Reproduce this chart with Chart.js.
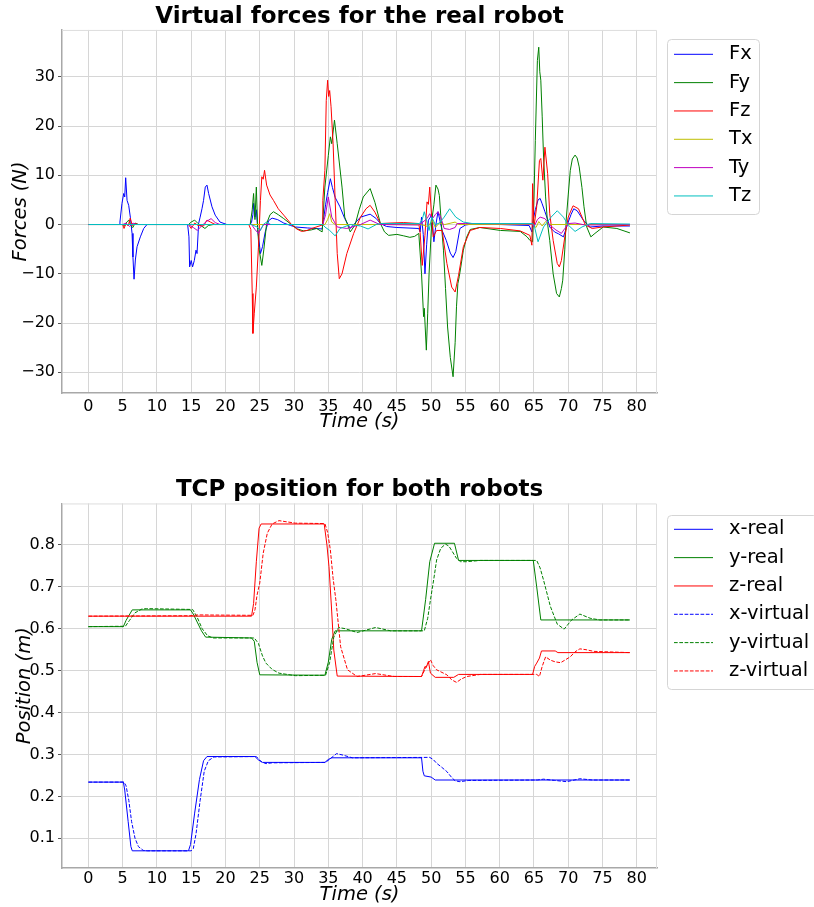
<!DOCTYPE html>
<html>
<head>
<meta charset="utf-8">
<script src="https://cdn.jsdelivr.net/npm/chart.js@4.4.0/dist/chart.umd.min.js"></script>
<style>
  body { margin: 0; background: #fff; }
  canvas { display: block; }
</style>
</head>
<body>
<canvas id="forceChart" width="814" height="453"></canvas>
<canvas id="posChart" width="814" height="454"></canvas>
<script>
// ---- virtual forces, [time (s), force (N)] ----
const fx = [[0,0],[4.5,0],[4.6,0.5],[4.9,4.3],[5.15,6.3],[5.3,5.6],[5.44,9.5],[5.64,4.9],[5.88,3.9],[6.12,1.5],[6.37,-1.8],[6.5,-6.6],[6.66,-11.1],[6.85,-7.2],[7.1,-4.5],[7.58,-2.5],[8.07,-0.8],[8.55,0],
  [14.48,0],[14.67,-2.5],[14.77,-8.6],[15.0,-7.3],[15.2,-8.6],[15.45,-7.3],[15.7,-5.2],[15.85,-5.9],[16.08,0.2],[16.3,1.5],[16.57,3.2],[16.8,4.9],[17.05,7.6],[17.3,8.0],[17.54,6.3],[18.03,3.6],[18.5,1.9],[19.2,0.5],[20.2,0],
  [23.6,0],[23.8,0.5],[24.0,2],[24.1,4.3],[24.3,1.5],[24.5,3],[24.7,-1],[25.1,-5.9],[25.4,-4.5],[25.8,-1.5],[26.3,0.8],[26.8,1.3],[27.6,1.0],[28.5,0.3],[29.5,-0.2],[30.2,-0.5],[32,-0.7],[34.1,-0.9],
  [34.3,1],[34.6,4],[34.9,6.5],[35.3,9.3],[35.6,7.5],[36.0,5.5],[36.7,3.6],[37.4,1.2],[38.2,-0.8],[38.9,0.3],[39.7,1.5],[41.1,2.1],[42.0,1.2],[42.6,0.2],[43.5,-0.4],[45,-0.6],[48.2,-0.8],
  [48.4,-1.5],[48.6,1.5],[48.85,-2],[49.1,-10],[49.35,-4],[49.6,0.9],[49.9,1.5],[50.1,2.2],[50.4,-3.5],[50.7,0],[51.0,2.6],[51.6,-1.2],[52.2,-3.2],[52.8,-5.8],[53.2,-6.7],[53.6,-5.5],[54.2,-0.8],[55,-0.1],[56,0.1],[60,0],[64.3,-0.2],[64.7,-1.5],
  [64.9,1],[65.2,3],[65.6,5],[65.9,5.3],[66.2,4.2],[66.6,2.6],[67.0,1],[67.3,-0.5],[68.0,-1.5],[68.6,-1.9],[69.3,-2.5],[69.7,-0.8],[70.0,0.5],[70.4,2],[70.8,3.2],[71.3,2.8],[72.2,0.9],[73.2,-0.5],[75,-0.3],[79,-0.3]];

const fy = [[0,0],[5.0,0],[5.3,-0.3],[5.6,0.5],[5.9,0.9],[6.2,-0.3],[6.5,-0.6],[6.8,0.3],[7.3,0],
  [14.6,0],[15.0,0.5],[15.5,0.9],[16.0,0.2],[16.5,-0.3],[17.0,-0.8],[17.5,-0.2],[18.2,0],
  [23.6,0],[23.9,3],[24.1,6.3],[24.3,1],[24.5,7.6],[24.7,-1],[24.9,-5],[25.3,-8.3],[25.6,-5],[26.0,0.2],[26.5,2],[27.0,2.6],[27.7,2],[28.5,1.2],[29.7,-0.1],[30.5,-0.9],[31.4,-1.3],[32.5,-1.1],[33.3,-0.8],[34.1,-1.5],
  [34.5,7.6],[35.0,14],[35.3,17.8],[35.5,16.4],[35.9,21.2],[36.3,16.4],[37.0,7.6],[37.4,1.5],[38.2,-1.5],[38.9,-0.1],[39.5,3],[40.1,5.6],[41.1,7.3],[41.8,4.5],[42.6,0.2],[43.2,-1.5],[43.8,-2.2],[45.0,-2.0],[46.0,-2.3],[46.9,-2.6],[47.6,-2.4],[48.2,-1.8],
  [48.6,-10],[48.9,-18.7],[49.0,-17],[49.3,-25.5],[49.5,-18],[49.7,-10],[50.1,0.9],[50.4,4],[50.7,8.0],[51.0,7.2],[51.2,5.9],[51.5,0],[51.8,-5.2],[52.1,-13],[52.4,-20.8],[52.8,-27],[53.2,-30.9],[53.5,-24],[53.7,-16.7],[53.9,-12],[54.1,-10.6],[54.4,-8],[54.7,-5.2],[55.2,-2.5],[55.7,-1],[57.1,-0.6],[60.1,-1.2],[63,-1.4],[64.0,-2.5],[64.4,-3.2],[64.8,-3.5],
  [65.0,5],[65.2,17.1],[65.5,33.3],[65.7,36.0],[65.85,31],[66.0,29.3],[66.2,22],[66.4,13.7],[66.7,5.6],[67.0,0],[67.3,-3.2],[67.8,-10],[68.3,-14],[68.7,-14.7],[69.0,-13],[69.2,-11.3],[69.5,-5],[69.7,0.9],[70.0,6],[70.3,11],[70.6,13.3],[71.0,14.1],[71.3,13.5],[71.6,11.7],[72.0,7.5],[72.3,3.6],[72.7,-0.5],[73.3,-2.5],[73.9,-1.8],[75.1,-0.5],[77.1,-0.8],[79,-1.7]];

const fz = [[0,0],[5.0,0],[5.2,-0.8],[5.5,0.3],[5.8,-0.3],[6.1,1.3],[6.4,-0.2],[6.8,0.2],[7.3,0],
  [14.6,0],[15.0,-0.8],[15.5,0.3],[16.0,-0.2],[16.8,-0.3],[17.3,0.9],[17.8,0.5],[18.5,0],
  [23.4,0],[23.7,-1],[23.9,-14],[24.0,-22.1],[24.2,-18],[24.5,-12.7],[24.8,-4.7],[25.1,4.9],[25.3,9.7],[25.5,9.2],[25.7,11],[26.0,8.0],[26.5,6],[27.0,4.9],[27.7,3.2],[28.5,1.9],[29.7,-0.1],[30.4,-0.9],[31.1,-1.4],[31.9,-1.2],[32.6,-0.8],[34.1,-0.1],
  [34.2,4.9],[34.5,11],[34.7,25.2],[34.9,29.3],[35.05,26],[35.2,27.2],[35.4,23.9],[35.7,16.4],[36.0,4.9],[36.3,-5.9],[36.6,-11],[37.0,-10],[37.7,-5.9],[38.7,-1.8],[39.7,1.5],[40.5,3.2],[41.1,3.9],[41.8,2.5],[42.6,0.2],[44,0.3],[46,0.4],[48.2,0.2],
  [48.4,-1.7],[48.7,-8.3],[49.1,-2.2],[49.4,4.6],[49.6,4.1],[49.8,7.6],[50.1,0.9],[50.3,-2.5],[50.8,-1.2],[51.6,-1.2],[52.3,-7.9],[53.0,-12.7],[53.5,-13.7],[54.0,-10.3],[54.7,-4.5],[55.7,-1.2],[57.1,-0.6],[60.1,-0.8],[63,-1.3],[64.4,-2.2],[64.7,-4.2],
  [64.8,8.3],[65.0,-0.5],[65.4,3.6],[65.8,13],[66.0,13.4],[66.3,9],[66.6,15.7],[67.0,10.3],[67.3,2.2],[67.8,-3.2],[68.4,-7.9],[68.7,-8.6],[69.0,-7.3],[69.5,-2.5],[70.0,1.5],[70.7,3.8],[71.5,3.2],[72.5,-0.1],[73.5,-0.8],[75,-0.5],[79,-0.1]];

const tx = [[0,0],[34.5,0],[34.9,1],[35.2,2.2],[35.5,0.5],[36,0],[48.5,0],[49.5,-0.4],[50.2,0.8],[50.6,-0.6],[51.2,0.3],[52,0],[53.5,0.5],[54,0],
  [64.8,0],[65.3,-0.6],[65.7,0.6],[66.2,-0.3],[66.7,0.6],[67.3,0],[79,0]];

const ty = [[0,0],[5,0],[5.5,0.3],[6.0,-0.4],[6.5,0.3],[7,0],[14.6,0],[15.3,-0.6],[15.9,-1.2],[16.5,-0.3],[17.2,0.6],[17.9,1.2],[18.5,0.4],[19.2,0],
  [23.8,0],[24.3,-1],[24.8,-1.8],[25.2,-0.8],[25.6,0],[34.2,0],[34.6,2],[35.0,5.6],[35.5,1.5],[36.3,-0.5],[37.7,-0.8],[39.7,0],[41.1,0.9],[42.5,0],[48.2,-0.1],
  [48.8,0.5],[49.4,1.2],[49.8,2.2],[50.2,1.2],[50.6,2],[51.0,2.6],[51.4,1.5],[51.9,-0.8],[52.7,-1.0],[53.5,-0.6],[53.8,0.2],[55,0.2],[64.8,0.1],
  [65.0,-0.5],[65.5,1],[65.9,1.5],[66.6,1.2],[67.3,-0.1],[68.2,-1.1],[69.0,-1.8],[69.5,-0.8],[70,0.2],[71,0.3],[72.5,-0.1],[79,0]];

const tz = [[0,0],[23.8,0],[24.6,-0.5],[25.1,-1.2],[25.5,0],[26.0,0.5],[26.6,0],[34.2,0],[34.5,-0.5],[35.2,-1.2],[36.0,-2.3],[36.7,-0.8],[38.2,0],[39.7,-0.3],[40.8,-0.9],[42.0,0],[42.6,0.2],[48.3,0.2],
  [48.7,1],[49.0,2.6],[49.4,0.5],[49.7,-1.2],[50.1,1.5],[50.6,0],[51.2,0.3],[51.9,1.5],[52.7,3.2],[53.6,1.5],[54.7,0.5],[56,0.2],[64.8,0.2],
  [65.0,0],[65.6,-3.5],[66.4,-0.5],[67.5,1.5],[68.4,2.8],[69.3,1.5],[70.0,-0.1],[71.0,-1.4],[72,-0.5],[73.2,0.2],[79,0.1]];

// ---- TCP position, [time (s), position (m)] ----
const xReal = [[0,0.234],[5.1,0.234],[5.3,0.215],[5.8,0.14],[6.2,0.08],[6.4,0.07],[14.6,0.07],[14.9,0.085],[15.5,0.16],[16.2,0.24],[16.8,0.285],[17.3,0.295],
  [24.3,0.295],[24.8,0.287],[25.4,0.281],[34.5,0.281],[35.0,0.288],[35.5,0.292],[48.6,0.292],[48.8,0.26],[49.0,0.249],[50.0,0.246],[50.6,0.239],[79,0.239]];

const yReal = [[0,0.605],[5.1,0.605],[5.5,0.62],[6.4,0.645],[14.9,0.645],[15.3,0.635],[16.5,0.595],[17.1,0.58],[23.8,0.578],[24.2,0.57],[24.6,0.52],[25.0,0.49],
  [34.5,0.489],[35.0,0.52],[35.5,0.575],[36.0,0.595],[48.6,0.595],[49.2,0.67],[49.8,0.76],[50.5,0.804],[53.4,0.804],[54.0,0.763],[64.9,0.763],[65.4,0.70],[66.0,0.621],[79,0.621]];

const zReal = [[0,0.63],[23.8,0.63],[24.1,0.66],[24.5,0.76],[24.9,0.84],[25.2,0.85],[34.4,0.85],[34.8,0.80],[35.1,0.748],[35.5,0.64],[35.8,0.549],[36.3,0.487],
  [48.6,0.486],[48.9,0.50],[49.1,0.51],[49.3,0.508],[49.6,0.522],[49.9,0.494],[50.6,0.484],[53.3,0.484],[54.0,0.491],[64.8,0.491],[65.1,0.51],[65.4,0.518],[65.8,0.53],[66.1,0.547],[68.1,0.547],[68.5,0.543],[79,0.543]];

const xVirt = [[0,0.234],[5.2,0.234],[5.5,0.225],[5.9,0.19],[6.3,0.14],[6.8,0.10],[7.3,0.08],[8.0,0.071],[8.6,0.07],[15.0,0.07],[15.3,0.075],[15.7,0.11],[16.3,0.19],[16.9,0.26],[17.5,0.285],[18.3,0.294],
  [24.5,0.295],[25.2,0.283],[25.9,0.278],[26.8,0.28],[34.6,0.281],[35.3,0.29],[36.2,0.302],[37.0,0.299],[38.5,0.292],[49.8,0.293],[50.3,0.288],[50.8,0.279],[51.5,0.27],[52.3,0.259],[53.0,0.245],[53.5,0.237],[54.2,0.235],[55.5,0.238],
  [65.5,0.239],[66.4,0.241],[68,0.238],[69.8,0.235],[71.7,0.242],[73.5,0.239],[79,0.239]];

const yVirt = [[0,0.605],[5.4,0.606],[6.0,0.62],[6.8,0.638],[7.8,0.647],[8.5,0.648],[15.2,0.646],[15.8,0.63],[16.6,0.60],[17.4,0.583],[18.2,0.578],[24.2,0.578],[24.8,0.565],[25.4,0.535],[25.9,0.518],[26.8,0.503],[27.8,0.494],[30.2,0.488],
  [34.6,0.489],[35.2,0.52],[35.8,0.58],[36.5,0.603],[37.5,0.600],[39.2,0.591],[41.9,0.603],[44.1,0.595],[49.0,0.595],[49.5,0.625],[49.9,0.669],[50.4,0.72],[50.8,0.764],[51.4,0.792],[52.1,0.802],[52.6,0.797],[53.1,0.784],[53.7,0.768],[54.3,0.760],[55.2,0.760],[57.2,0.763],
  [65.4,0.763],[65.9,0.745],[66.4,0.716],[67.4,0.653],[68.4,0.611],[69.4,0.599],[70.5,0.621],[71.7,0.635],[73.2,0.625],[74.6,0.621],[79,0.621]];

const zVirt = [[0,0.63],[14.8,0.631],[16,0.633],[24.0,0.632],[24.3,0.645],[24.6,0.68],[25.0,0.709],[25.5,0.78],[26.1,0.828],[26.8,0.85],[27.8,0.858],[30.2,0.852],[34.5,0.851],[34.9,0.83],[35.3,0.788],[35.7,0.72],[36.1,0.669],[36.8,0.557],[37.8,0.502],[39.2,0.486],[41.9,0.493],[44.6,0.486],
  [48.6,0.486],[49.3,0.51],[49.9,0.526],[50.3,0.512],[50.8,0.502],[52.3,0.49],[53.0,0.478],[53.7,0.472],[54.4,0.48],[55.2,0.486],[57.2,0.491],[65.4,0.491],[65.8,0.486],[66.2,0.51],[66.7,0.533],[67.4,0.525],[68.1,0.521],[68.9,0.519],[70.3,0.533],[71.0,0.545],[71.7,0.552],[72.6,0.55],[73.7,0.546],[79,0.543]];

const forceLabels = ['Fx', 'Fy', 'Fz', 'Tx', 'Ty', 'Tz'];
const forceData = [fx, fy, fz, tx, ty, tz];
const forceColors = ['#0000ff', '#008000', '#ff0000', '#bfbf00', '#bf00bf', '#00bfbf'];

const posLabels = ['x-real', 'y-real', 'z-real', 'x-virtual', 'y-virtual', 'z-virtual'];
const posData = [xReal, yReal, zReal, xVirt, yVirt, zVirt];
const posColors = ['#0000ff', '#008000', '#ff0000', '#0000ff', '#008000', '#ff0000'];

const timeTicks = { min: -3.85, max: 82.95, step: 5 };

const FONT = 'DejaVu Sans';
const tickFont = { family: FONT, size: 16 };
const axisTitleFont = { family: FONT, size: 19.5, style: 'italic', lineHeight: 1.2 };
const titleFont = { family: FONT, size: 23, weight: 'bold', lineHeight: 1.15 };

// legend in a rounded box, to the right of the plot
const boxLegend = {
  id: 'boxLegend',
  afterDraw(chart, args, opts) {
    const ctx = chart.ctx;
    ctx.save();
    ctx.beginPath();
    ctx.roundRect(opts.x + 0.5, opts.y + 0.5, opts.width, opts.height, 4);
    ctx.fillStyle = 'rgba(255,255,255,0.8)';
    ctx.fill();
    ctx.strokeStyle = '#d5d5d5';
    ctx.lineWidth = 1;
    ctx.stroke();
    ctx.font = '19.5px "' + FONT + '"';
    ctx.textBaseline = 'middle';
    chart.data.datasets.forEach((ds, i) => {
      const y = opts.y + opts.first + i * opts.rowH;
      ctx.beginPath();
      ctx.setLineDash(ds.borderDash || []);
      ctx.strokeStyle = ds.borderColor;
      ctx.moveTo(opts.x + 7, y);
      ctx.lineTo(opts.x + 46, y);
      ctx.stroke();
      ctx.setLineDash([]);
      ctx.fillStyle = '#000';
      ctx.fillText(ds.label, opts.x + 62, y);
    });
    ctx.restore();
  }
};

// light top / right edges of the axes box
const frame = {
  id: 'frame',
  beforeDatasetsDraw(chart) {
    const { ctx, chartArea: a } = chart;
    ctx.save();
    ctx.strokeStyle = '#dedede';
    ctx.lineWidth = 1;
    ctx.beginPath();
    ctx.moveTo(a.left, a.top + 0.5);
    ctx.lineTo(a.right - 0.5, a.top + 0.5);
    ctx.lineTo(a.right - 0.5, a.bottom);
    ctx.stroke();
    ctx.restore();
  }
};

function makeDatasets(labels, series, colors, dashed) {
  return labels.map((label, i) => ({
    label: label,
    data: series[i].map(p => ({ x: p[0], y: p[1] })),
    borderColor: colors[i],
    borderWidth: 1,
    borderDash: dashed && dashed(i) ? [3.7, 1.6] : [],
    pointRadius: 0,
    tension: 0,
    fill: false,
    order: labels.length - i
  }));
}

function makeOptions(cfg) {
  return {
    responsive: false,
    animation: false,
    events: [],
    layout: { padding: { left: 0, right: 157, top: 0, bottom: 0 } },
    plugins: {
      legend: { display: false },
      tooltip: { enabled: false },
      title: {
        display: true,
        text: cfg.title,
        color: '#000',
        font: titleFont,
        fullSize: false,
        padding: { top: cfg.titleTop, bottom: 0 }
      },
      boxLegend: cfg.legend
    },
    scales: {
      x: {
        type: 'linear',
        min: timeTicks.min,
        max: timeTicks.max,
        afterFit: s => { s.height = cfg.xHeight; },
        border: { color: '#a8a8a8', width: 1.5 },
        grid: { color: '#d6d6d6', drawTicks: false },
        ticks: {
          stepSize: timeTicks.step, includeBounds: false, autoSkip: false, maxRotation: 0,
          padding: cfg.xTickPad, color: '#000', font: tickFont
        },
        title: {
          display: true, text: 'Time (s)', color: '#000', font: axisTitleFont,
          padding: { top: 0, bottom: cfg.xTitlePad }
        }
      },
      y: {
        type: 'linear',
        min: cfg.yMin,
        max: cfg.yMax,
        afterFit: s => { s.width = 62; },
        border: { color: '#a8a8a8', width: 1.5 },
        grid: { color: '#d6d6d6', tickColor: '#555', tickLength: 4 },
        ticks: {
          stepSize: cfg.yStep, includeBounds: false, padding: 3, color: '#000', font: tickFont,
          callback: cfg.yFormat
        },
        title: {
          display: true, text: cfg.yTitle, color: '#000', font: axisTitleFont,
          padding: { top: cfg.yTitlePad, bottom: 0 }
        }
      }
    }
  };
}

new Chart(document.getElementById('forceChart'), {
  type: 'line',
  data: { datasets: makeDatasets(forceLabels, forceData, forceColors) },
  options: makeOptions({
    title: 'Virtual forces for the real robot',
    titleTop: 3.5,
    xHeight: 60, xTickPad: 4, xTitlePad: 19.8,
    yMin: -34.2, yMax: 39.5, yStep: 10,
    yFormat: v => String(v).replace('-', '\u2212'),
    yTitle: 'Forces (N)', yTitlePad: 9.3,
    legend: { x: 667, y: 39, width: 92, height: 175, first: 15.3, rowH: 28.33 }
  }),
  plugins: [frame, boxLegend]
});

new Chart(document.getElementById('posChart'), {
  type: 'line',
  data: { datasets: makeDatasets(posLabels, posData, posColors, i => i >= 3) },
  options: makeOptions({
    title: 'TCP position for both robots',
    titleTop: 24,
    xHeight: 39, xTickPad: 1, xTitlePad: 0,
    yMin: 0.029, yMax: 0.899, yStep: 0.1,
    yFormat: v => v.toFixed(1),
    yTitle: 'Position (m)', yTitlePad: 13,
    legend: { x: 667, y: 62, width: 150, height: 174, first: 14.3, rowH: 28.33 }
  }),
  plugins: [frame, boxLegend]
});
</script>
</body>
</html>
